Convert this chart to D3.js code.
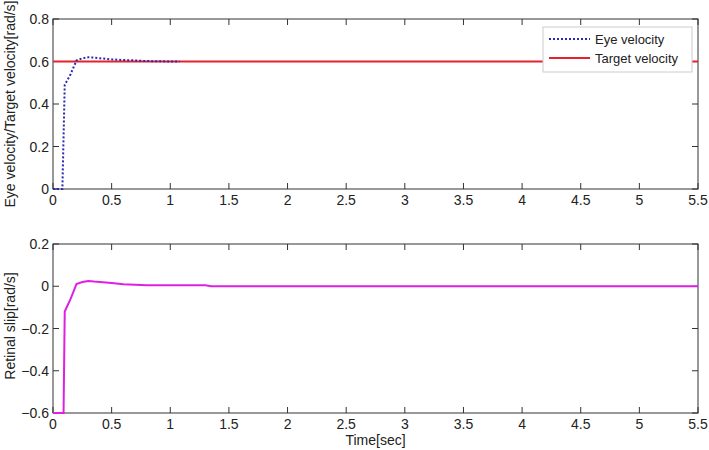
<!DOCTYPE html>
<html>
<head>
<meta charset="utf-8">
<script src="https://cdn.jsdelivr.net/npm/d3@7"></script>
<style>
  body { margin: 0; background: #fff; }
  text { font-family: "Liberation Sans", Arial, sans-serif; fill: #222; }
</style>
</head>
<body>
<div id="graph"></div>
<script>
var width = 709;
var height = 450;

// x ticks shared by both panels
var xTicks = [0, 0.5, 1, 1.5, 2, 2.5, 3, 3.5, 4, 4.5, 5, 5.5];
var topYTicks = [0, 0.2, 0.4, 0.6, 0.8];
var botYTicks = [-0.6, -0.4, -0.2, 0, 0.2];

// eye velocity [time, value]
var eyeT = [0, 0.08, 0.1, 0.15, 0.2, 0.25, 0.3, 0.35, 0.4, 0.5, 0.6, 0.7, 0.8, 0.9, 1.0, 1.08];
var eyeV = [0, 0, 0.49, 0.54, 0.605, 0.615, 0.62, 0.618, 0.615, 0.61, 0.607, 0.605, 0.602, 0.601, 0.6, 0.6];

// target velocity
var targetT = [0, 5.5];
var targetV = [0.6, 0.6];

// retinal slip
var slipT = [0, 0.09, 0.1, 0.15, 0.2, 0.25, 0.3, 0.35, 0.4, 0.5, 0.6, 0.8, 1.0, 1.3, 1.35, 2, 3, 4, 5, 5.5];
var slipV = [-0.6, -0.6, -0.12, -0.06, 0.01, 0.02, 0.025, 0.022, 0.02, 0.015, 0.01, 0.005, 0.005, 0.005, 0, 0, 0, 0, 0, 0];

var svg = d3.select("#graph").append("svg")
  .attr("width", width).attr("height", height);

var xScale = d3.scaleLinear().domain([0, 5.5]).range([53, 698]);
var yTop = d3.scaleLinear().domain([0, 0.8]).range([189, 19]);
var yBot = d3.scaleLinear().domain([-0.6, 0.2]).range([413, 244]);

function zip(t, v) {
  return t.map(function (d, i) { return [d, v[i]]; });
}

function drawPanel(yScale, yTicks, ylabel, labelY) {
  var g = svg.append("g");
  var x0 = xScale.range()[0], x1 = xScale.range()[1];
  var yb = yScale.range()[0], yt = yScale.range()[1];

  g.append("rect")
    .attr("x", x0).attr("y", yt)
    .attr("width", x1 - x0).attr("height", yb - yt)
    .attr("fill", "none").attr("stroke", "#333").attr("stroke-width", 1);

  // inward ticks, MATLAB style, on all four sides
  xTicks.forEach(function (t) {
    var x = xScale(t);
    g.append("line").attr("x1", x).attr("x2", x).attr("y1", yb).attr("y2", yb - 6)
      .attr("stroke", "#333");
    g.append("line").attr("x1", x).attr("x2", x).attr("y1", yt).attr("y2", yt + 6)
      .attr("stroke", "#333");
    g.append("text").attr("x", x).attr("y", yb + 16)
      .attr("text-anchor", "middle").attr("font-size", 14)
      .text(d3.format("")(t));
  });
  yTicks.forEach(function (t) {
    var y = yScale(t);
    g.append("line").attr("x1", x0).attr("x2", x0 + 6).attr("y1", y).attr("y2", y)
      .attr("stroke", "#333");
    g.append("line").attr("x1", x1).attr("x2", x1 - 6).attr("y1", y).attr("y2", y)
      .attr("stroke", "#333");
    g.append("text").attr("x", x0 - 4).attr("y", y + 5)
      .attr("text-anchor", "end").attr("font-size", 14)
      .text(String(t).replace("-", "\u2212"));
  });

  g.append("text")
    .attr("transform", "translate(15," + labelY + ") rotate(-90)")
    .attr("text-anchor", "middle").attr("font-size", 14)
    .text(ylabel);
  return g;
}

drawPanel(yTop, topYTicks, "Eye velocity/Target velocity[rad/s]", 104);
drawPanel(yBot, botYTicks, "Retinal slip[rad/s]", 326);

var lineTop = d3.line().x(function (d) { return xScale(d[0]); }).y(function (d) { return yTop(d[1]); });
var lineBot = d3.line().x(function (d) { return xScale(d[0]); }).y(function (d) { return yBot(d[1]); });

svg.append("path").datum(zip(targetT, targetV))
  .attr("d", lineTop).attr("fill", "none")
  .attr("stroke", "#e8202a").attr("stroke-width", 2);

svg.append("path").datum(zip(eyeT, eyeV))
  .attr("d", lineTop).attr("fill", "none")
  .attr("stroke", "#2a2ab0").attr("stroke-width", 2)
  .attr("stroke-dasharray", "2,2");

svg.append("path").datum(zip(slipT, slipV))
  .attr("d", lineBot).attr("fill", "none")
  .attr("stroke", "#e020e0").attr("stroke-width", 2);

// legend
var leg = svg.append("g");
leg.append("rect").attr("x", 543).attr("y", 27).attr("width", 149).attr("height", 45)
  .attr("fill", "#fff").attr("stroke", "#ccc");
leg.append("line").attr("x1", 549).attr("x2", 590).attr("y1", 39).attr("y2", 39)
  .attr("stroke", "#2a2ab0").attr("stroke-width", 2).attr("stroke-dasharray", "2,2");
leg.append("text").attr("x", 595).attr("y", 44).attr("font-size", 13).text("Eye velocity");
leg.append("line").attr("x1", 549).attr("x2", 590).attr("y1", 58).attr("y2", 58)
  .attr("stroke", "#e8202a").attr("stroke-width", 2);
leg.append("text").attr("x", 595).attr("y", 63).attr("font-size", 13).text("Target velocity");

svg.append("text").attr("x", xScale(2.75)).attr("y", 445)
  .attr("text-anchor", "middle").attr("font-size", 14).text("Time[sec]");
</script>
</body>
</html>
